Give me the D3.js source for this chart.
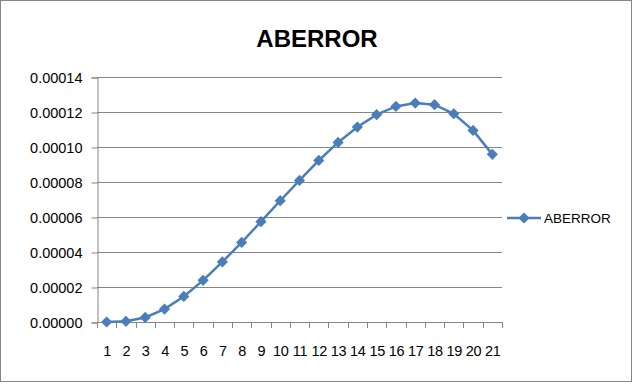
<!DOCTYPE html>
<html>
<head>
<meta charset="utf-8">
<script src="https://cdn.jsdelivr.net/npm/d3@7"></script>
<style>
  body { margin: 0; background: #fff; }
  text { font-family: "Liberation Sans", Arial, sans-serif; }
</style>
</head>
<body>
<div id="chart"></div>
<script>
const categories = ['1','2','3','4','5','6','7','8','9','10','11','12','13','14','15','16','17','18','19','20','21'];
const aberror = [0, 0.0000004, 0.0000026, 0.0000074, 0.0000146, 0.0000238, 0.0000343, 0.0000455,
  0.0000573, 0.0000693, 0.0000809, 0.0000923, 0.0001026, 0.0001114, 0.0001185, 0.0001232,
  0.0001251, 0.0001242, 0.000119, 0.0001095, 0.0000958];
const yTicks = [0, 0.00002, 0.00004, 0.00006, 0.00008, 0.0001, 0.00012, 0.00014];
const seriesName = 'ABERROR';

const width = 634, height = 384;
const plot = { left: 97, right: 502, top: 77, bottom: 322 };
const blue = '#4a7ebb';
const gray = '#868686';
const labelSize = 14.5;

const svg = d3.select('#chart').append('svg')
    .attr('width', width)
    .attr('height', height);

// outer border
svg.append('rect')
    .attr('x', 0.5).attr('y', 0.5)
    .attr('width', width - 3).attr('height', height - 3)
    .attr('fill', '#fff')
    .attr('stroke', gray);

// title
svg.append('text')
    .text('ABERROR')
    .attr('x', 317)
    .attr('y', 47)
    .attr('text-anchor', 'middle')
    .attr('font-size', 24)
    .attr('font-weight', 'bold')
    .attr('fill', '#000');

const x = d3.scaleBand(categories, [plot.left, plot.right]);
const y = d3.scaleLinear([0, 0.00014], [plot.bottom, plot.top]);

// gridlines
svg.append('g')
    .selectAll('line')
    .data(yTicks.slice(1))
    .join('line')
    .attr('x1', plot.left).attr('x2', plot.right)
    .attr('y1', d => Math.round(y(d)) + 0.5).attr('y2', d => Math.round(y(d)) + 0.5)
    .attr('stroke', gray);

// y axis
const yAxis = svg.append('g')
    .attr('transform', `translate(${plot.left + 0.5},0.5)`)
    .call(d3.axisLeft(y).tickValues(yTicks).tickFormat(d3.format('.5f')).tickSize(6).tickPadding(9));
yAxis.selectAll('line, path').attr('stroke', gray);
yAxis.selectAll('text').attr('font-size', labelSize).attr('fill', '#000')
    .style('font-family', '"Liberation Sans", Arial, sans-serif');

// x axis
const xAxis = svg.append('g')
    .attr('transform', `translate(0.5,${plot.bottom + 0.5})`)
    .call(d3.axisBottom(x).tickSize(0).tickPadding(23));
xAxis.select('path').attr('stroke', gray).attr('d', `M${plot.left},0H${plot.right}`);
xAxis.selectAll('text').attr('font-size', labelSize).attr('fill', '#000')
    .style('font-family', '"Liberation Sans", Arial, sans-serif')
    .style('letter-spacing', '-0.3px');
svg.append('g')
    .selectAll('line')
    .data(categories.concat(['end']))
    .join('line')
    .attr('x1', (d, i) => Math.round(plot.left + i * x.step()) + 0.5)
    .attr('x2', (d, i) => Math.round(plot.left + i * x.step()) + 0.5)
    .attr('y1', plot.bottom).attr('y2', plot.bottom + 6)
    .attr('stroke', gray);

// series line
const cx = d => x(d) + x.bandwidth() / 2;
const line = d3.line()
    .x((d, i) => cx(categories[i]))
    .y(d => y(d));
svg.append('path')
    .datum(aberror)
    .attr('d', line)
    .attr('fill', 'none')
    .attr('stroke', blue)
    .attr('stroke-width', 2.5);

const diamond = d3.symbol().type(d3.symbolDiamond2).size(80);
svg.append('g')
    .selectAll('path')
    .data(aberror)
    .join('path')
    .attr('d', diamond)
    .attr('transform', (d, i) => `translate(${cx(categories[i])},${y(d)})`)
    .attr('fill', blue);

// legend
const lg = svg.append('g').attr('transform', 'translate(507,218)');
lg.append('line')
    .attr('x1', 0).attr('x2', 34)
    .attr('stroke', blue).attr('stroke-width', 2.5);
lg.append('path').attr('d', diamond).attr('transform', 'translate(17,0)').attr('fill', blue);
lg.append('text')
    .text(seriesName)
    .attr('x', 37).attr('y', 5)
    .attr('font-size', 13.5)
    .attr('fill', '#000');
</script>
</body>
</html>
